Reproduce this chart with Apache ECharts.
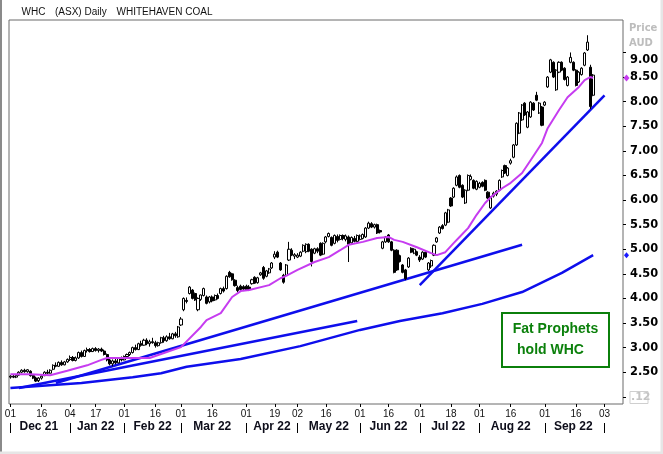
<!DOCTYPE html>
<html><head><meta charset="utf-8">
<script src="https://cdn.jsdelivr.net/npm/echarts@6/dist/echarts.min.js"></script>
<style>html,body{margin:0;padding:0;background:#fff;}#c{width:663px;height:454px;}</style>
</head><body><div id="c"></div>
<script>
// ---- trading days (ASX) per month ----
const dec21=[1,2,3,6,7,8,9,10,13,14,15,16,17,20,21,22,23,24,29,30,31];
const jan22=[4,5,6,7,10,11,12,13,14,17,18,19,20,21,24,25,27,28,31];
const feb22=[1,2,3,4,7,8,9,10,11,14,15,16,17,18,21,22,23,24,25,28];
const mar22=[1,2,3,4,7,8,9,10,11,14,15,16,17,18,21,22,23,24,25,28,29,30,31];
const apr22=[1,4,5,6,7,8,11,12,13,14,19,20,21,22,26,27,28,29];
const may22=[2,3,4,5,6,9,10,11,12,13,16,17,18,19,20,23,24,25,26,27,30,31];
const jun22=[1,2,3,6,7,8,9,10,14,15,16,17,20,21,22,23,24,27,28,29,30];
const jul22=[1,4,5,6,7,8,11,12,13,14,15,18,19,20,21,22,25,26,27,28,29];
const aug22=[1,2,3,4,5,8,9,10,11,12,15,16,17,18,19,22,23,24,25,26,29,30,31];
const sep22=[1,2,5,6,7,8,9,12,13,14,15,16,19,20,21,23,26,27,28,29,30];
const oct22=[3,4,5,6,7,10,11];
const monthKeys=['2021-12','2022-01','2022-02','2022-03','2022-04','2022-05','2022-06','2022-07','2022-08','2022-09','2022-10'];
const monthDays=[dec21,jan22,feb22,mar22,apr22,may22,jun22,jul22,aug22,sep22,oct22];
const monthNames=['Dec 21','Jan 22','Feb 22','Mar 22','Apr 22','May 22','Jun 22','Jul 22','Aug 22','Sep 22'];
const tickDates=['2021-12-01','2021-12-16','2022-01-04','2022-01-17','2022-02-01','2022-02-16','2022-03-01','2022-03-16','2022-04-01','2022-04-19','2022-05-02','2022-05-16','2022-06-01','2022-06-16','2022-07-01','2022-07-18','2022-08-01','2022-08-16','2022-09-01','2022-09-16','2022-10-03'];
const yTicks=[2.0,2.5,3.0,3.5,4.0,4.5,5.0,5.5,6.0,6.5,7.0,7.5,8.0,8.5,9.0];
const yLabels=[2.5,3.0,3.5,4.0,4.5,5.0,5.5,6.0,6.5,7.0,7.5,8.0,8.5,9.0];

// ---- daily prices (AUD) ----
const openP=[2.40,2.42,2.40,2.44,2.50,2.54,2.51,2.52,2.43,2.38,
2.33,2.38,2.43,2.50,2.48,2.56,2.64,2.62,2.70,2.65,
2.71,2.76,2.80,2.74,2.79,2.90,2.82,2.94,2.96,2.92,
2.98,2.94,2.97,2.93,2.86,2.75,2.67,2.73,2.69,2.78,
2.75,2.82,2.86,2.90,3.00,2.96,3.08,3.05,3.15,3.08,
3.12,3.10,3.04,3.10,3.20,3.14,3.22,3.18,3.28,3.22,
3.46,3.77,3.96,4.10,4.17,4.10,3.77,3.98,4.06,4.03,
3.93,4.03,3.97,4.06,4.10,4.20,4.20,4.53,4.50,4.37,
4.22,4.25,4.24,4.25,4.23,4.30,4.43,4.32,4.48,4.63,
4.45,4.52,4.62,4.84,4.94,4.72,4.47,4.47,4.78,4.98,
4.86,4.84,4.86,4.96,4.95,5.10,5.00,4.92,5.01,5.12,
4.90,5.15,5.26,5.24,5.12,5.26,5.20,5.28,5.20,5.25,
5.13,5.22,5.16,5.20,5.22,5.25,5.43,5.52,5.45,5.50,
5.38,5.02,5.15,5.29,5.15,4.98,4.98,4.87,4.68,4.58,
4.64,5.02,4.92,4.95,4.84,4.80,4.94,4.58,4.66,4.88,
5.15,5.33,5.48,5.49,5.55,6.04,6.06,6.30,6.50,6.30,
5.94,6.20,6.42,6.40,6.22,6.26,6.36,6.40,6.16,5.84,
6.08,6.12,6.20,6.47,6.70,6.50,6.75,6.87,7.12,7.36,
7.63,7.97,7.48,7.69,7.97,8.13,7.77,7.89,7.93,8.30,
8.60,8.80,8.24,8.60,8.80,8.68,8.33,8.80,8.80,8.64,
8.40,8.55,8.74,9.05,8.70,8.13];
const highP=[2.44,2.45,2.44,2.52,2.56,2.57,2.56,2.54,2.46,2.41,
2.40,2.44,2.52,2.55,2.56,2.66,2.70,2.72,2.74,2.73,
2.78,2.84,2.83,2.82,2.92,2.94,2.96,3.00,2.99,3.00,
3.01,2.99,3.00,2.96,2.88,2.80,2.76,2.78,2.80,2.82,
2.84,2.88,2.92,3.02,3.06,3.10,3.14,3.18,3.19,3.16,
3.20,3.14,3.12,3.22,3.24,3.25,3.30,3.30,3.32,3.44,
3.62,4.02,4.02,4.25,4.19,4.12,4.02,4.08,4.22,4.06,
4.05,4.06,4.08,4.10,4.22,4.24,4.47,4.56,4.52,4.39,
4.26,4.28,4.27,4.28,4.27,4.40,4.45,4.44,4.54,4.66,
4.58,4.62,4.74,4.96,4.97,4.74,4.50,4.70,5.15,5.02,
4.92,4.92,4.96,5.10,5.12,5.12,5.02,5.03,5.04,5.14,
5.14,5.27,5.34,5.26,5.30,5.30,5.30,5.30,5.30,5.28,
5.26,5.27,5.30,5.30,5.32,5.45,5.56,5.55,5.52,5.52,
5.40,5.17,5.27,5.31,5.17,5.00,5.00,4.89,4.70,4.60,
4.84,5.04,5.02,4.97,4.88,4.96,4.96,4.74,4.79,5.10,
5.25,5.47,5.51,5.76,5.82,6.06,6.26,6.50,6.52,6.32,
6.22,6.52,6.52,6.42,6.40,6.37,6.38,6.42,6.18,6.08,
6.17,6.20,6.42,6.62,6.72,6.67,6.84,7.14,7.58,7.79,
7.95,7.99,7.81,8.01,7.99,8.20,7.99,7.91,8.01,8.52,
8.87,8.82,8.66,8.82,8.82,8.70,8.52,9.00,8.82,8.66,
8.62,8.70,9.01,9.35,8.75,8.56];
const lowP=[2.37,2.38,2.38,2.43,2.48,2.49,2.49,2.41,2.36,2.30,
2.30,2.35,2.42,2.46,2.47,2.54,2.60,2.61,2.63,2.64,
2.69,2.73,2.72,2.72,2.77,2.80,2.81,2.90,2.90,2.91,
2.92,2.90,2.91,2.84,2.72,2.64,2.62,2.66,2.68,2.72,
2.74,2.78,2.83,2.88,2.94,2.95,3.02,3.04,3.05,3.02,
3.08,3.00,3.02,3.08,3.10,3.12,3.16,3.17,3.20,3.20,
3.44,3.74,3.90,4.08,3.98,3.95,3.74,3.95,4.04,3.88,
3.90,3.92,3.95,3.98,4.08,4.12,4.18,4.42,4.36,4.24,
4.12,4.15,4.15,4.16,4.15,4.28,4.30,4.30,4.46,4.38,
4.43,4.50,4.60,4.80,4.82,4.56,4.30,4.45,4.76,4.86,
4.80,4.82,4.84,4.94,4.92,4.94,4.65,4.90,4.92,4.86,
4.88,5.12,5.24,5.06,5.10,5.14,5.18,5.18,5.16,4.74,
5.11,5.14,5.14,5.18,5.20,5.23,5.41,5.43,5.42,5.31,
5.32,5.00,5.13,5.13,4.96,4.51,4.56,4.73,4.51,4.37,
4.62,4.92,4.90,4.86,4.74,4.78,4.82,4.56,4.62,4.86,
5.13,5.31,5.40,5.47,5.53,5.86,6.04,6.28,6.24,6.04,
5.92,6.18,6.40,6.22,6.20,6.24,6.26,6.18,6.02,5.82,
6.05,6.08,6.18,6.45,6.53,6.48,6.72,6.85,7.10,7.34,
7.61,7.71,7.46,7.67,7.81,8.01,7.75,7.50,7.91,8.28,
8.58,8.48,8.22,8.58,8.62,8.43,8.31,8.78,8.62,8.31,
8.38,8.53,8.72,9.03,7.85,8.11];
const closeP=[2.42,2.40,2.43,2.50,2.54,2.51,2.55,2.43,2.38,2.32,
2.38,2.42,2.50,2.48,2.54,2.64,2.62,2.70,2.65,2.71,
2.76,2.80,2.74,2.79,2.90,2.82,2.94,2.96,2.92,2.98,
2.94,2.97,2.93,2.86,2.75,2.67,2.73,2.69,2.78,2.75,
2.82,2.86,2.90,3.00,2.96,3.08,3.05,3.15,3.08,3.12,
3.10,3.04,3.10,3.20,3.14,3.22,3.18,3.28,3.24,3.42,
3.58,4.00,3.94,4.23,4.00,3.97,4.00,4.07,4.20,3.90,
4.03,3.95,4.06,4.00,4.20,4.15,4.45,4.44,4.38,4.26,
4.16,4.18,4.19,4.17,4.18,4.38,4.31,4.42,4.52,4.41,
4.56,4.60,4.72,4.90,4.84,4.58,4.33,4.68,5.00,4.88,
4.89,4.88,4.94,5.08,5.10,4.96,4.75,5.01,4.96,4.88,
5.12,5.25,5.32,5.08,5.28,5.18,5.28,5.22,5.27,5.10,
5.24,5.16,5.28,5.27,5.30,5.43,5.53,5.45,5.50,5.33,
5.35,5.15,5.25,5.15,4.98,4.53,4.58,4.75,4.53,4.40,
4.82,4.94,5.00,4.88,4.78,4.94,4.84,4.72,4.77,5.08,
5.23,5.45,5.42,5.74,5.80,5.88,6.24,6.47,6.26,6.06,
6.20,6.50,6.48,6.24,6.38,6.34,6.28,6.20,6.04,6.06,
6.14,6.18,6.40,6.60,6.55,6.65,6.80,7.12,7.56,7.77,
7.93,7.73,7.79,7.99,7.83,8.03,7.97,7.52,7.99,8.50,
8.85,8.50,8.64,8.80,8.64,8.45,8.50,8.90,8.64,8.33,
8.60,8.68,8.99,9.21,7.90,8.54];

// ---- short moving average (magenta), read at [trading-day index, value] ----
const maShort=[[0,2.46],[7,2.46],[14,2.44],[20,2.53],[27,2.64],[32,2.75],[34,2.79],[49,2.79],[55,2.91],[60,3.01],[67,3.42],[69,3.56],[74,3.70],[78,4.03],[81,4.15],[84,4.17],[91,4.27],[95,4.41],[97,4.46],[101,4.58],[107,4.74],[112,4.84],[116,4.98],[119,5.09],[124,5.15],[129,5.23],[133,5.25],[135,5.19],[138,5.15],[143,5.04],[148,4.92],[150,4.88],[153,4.94],[156,5.13],[158,5.25],[161,5.43],[164,5.70],[167,5.94],[169,6.06],[173,6.24],[176,6.35],[180,6.55],[183,6.81],[187,7.16],[189,7.46],[193,7.83],[196,8.09],[200,8.30],[202,8.44],[204,8.50],[205,8.48]];
// ---- long moving average (blue curve) ----
const maLong=[[0,2.18],[25,2.28],[43,2.40],[53,2.48],[62,2.61],[81,2.77],[102,3.03],[123,3.36],[137,3.54],[152,3.70],[166,3.89],[180,4.13],[194,4.52],[205,4.88]];
// ---- trend lines ----
const trendB=[[3,2.18],[122,3.54]];
const trendC=[[16,2.28],[180,5.09]];
const trendD=[[144,4.27],[209,8.13]];

// ---- build categories ----
const cats=[];
const monthStartIdx=[];
monthKeys.forEach((k,mi)=>{monthStartIdx.push(cats.length);monthDays[mi].forEach(d=>cats.push(k+'-'+String(d).padStart(2,'0')));});
const tickIdx=new Set(tickDates.map(d=>cats.indexOf(d)));
const sepIdx=new Set(monthStartIdx);
const monthLabelAt={};
for(let m=0;m<monthNames.length;m++){monthLabelAt[Math.floor((monthStartIdx[m]+monthStartIdx[m+1])/2)]=monthNames[m];}
const candles=openP.map((o,i)=>[o,closeP[i],lowP[i],highP[i]]);

const BLUE='#0e0eec', MAG='#c63cf0';
const chart=echarts.init(document.getElementById('c'),null,{renderer:'canvas'});
const yFont={fontFamily:'"DejaVu Sans", Verdana, sans-serif',fontWeight:'bold',fontSize:11.4,color:'#000'};
chart.setOption({
  animation:false,
  backgroundColor:'#ffffff',
  grid:{left:9,top:20,width:614,height:384,show:true,borderColor:'#6b6b6b',borderWidth:1,containLabel:false,outerBoundsMode:'none'},
  xAxis:[{
    type:'category',data:cats,boundaryGap:true,position:'bottom',
    axisLine:{show:false},splitLine:{show:false},
    axisTick:{show:true,alignWithLabel:true,length:3,interval:(i)=>tickIdx.has(i),lineStyle:{color:'#000',width:1}},
    axisLabel:{show:true,interval:(i)=>tickIdx.has(i),formatter:(v)=>v.slice(8),margin:5,fontSize:10,fontFamily:'"Liberation Sans", Arial, sans-serif',color:'#111'}
  },{
    type:'category',data:cats,boundaryGap:true,position:'bottom',offset:19,
    axisLine:{show:false},splitLine:{show:false},
    axisTick:{show:true,alignWithLabel:true,length:10,interval:(i)=>sepIdx.has(i),lineStyle:{color:'#000',width:1}},
    axisLabel:{show:true,interval:(i)=>monthLabelAt[i]!==undefined,formatter:(v,i)=>monthLabelAt[i]||'',margin:-2,fontSize:12,fontWeight:'bold',fontFamily:'"Liberation Sans", Arial, sans-serif',color:'#0d0d1a'}
  }],
  yAxis:{
    type:'value',position:'right',min:1.854,max:9.66,scale:true,
    axisLine:{show:false},splitLine:{show:false},
    axisTick:{show:true,length:3,customValues:yTicks,lineStyle:{color:'#000'}},
    axisLabel:Object.assign({show:true,margin:7,customValues:yLabels,
      formatter:(v)=>Math.abs(v-9)<1e-6?'{d|9.00}':v.toFixed(2),
      rich:{d:Object.assign({padding:[16,0,0,0]},yFont)}},yFont)
  },
  series:[
    {type:'line',name:'long',data:maLong,symbol:'none',z:2,lineStyle:{color:BLUE,width:2.5},xAxisIndex:0},
    {type:'line',name:'B',data:trendB,symbol:'none',z:2,lineStyle:{color:BLUE,width:2.5},xAxisIndex:0},
    {type:'line',name:'C',data:trendC,symbol:'none',z:2,lineStyle:{color:BLUE,width:2.5},xAxisIndex:0},
    {type:'line',name:'D',data:trendD,symbol:'none',z:2,lineStyle:{color:BLUE,width:2.5},xAxisIndex:0},
    {type:'candlestick',data:candles,barWidth:2.6,z:3,xAxisIndex:0,
      itemStyle:{color:'#ffffff',color0:'#000000',borderColor:'#000000',borderColor0:'#000000',borderWidth:1}},
    {type:'line',name:'ma',data:maShort,symbol:'none',z:4,lineStyle:{color:MAG,width:2},xAxisIndex:0}
  ]
});

const yMag=chart.convertToPixel({yAxisIndex:0},maShort[maShort.length-1][1]);
const yBlue=chart.convertToPixel({yAxisIndex:0},maLong[maLong.length-1][1]);
const diamond=(cx,cy,r,fill)=>({type:'polygon',shape:{points:[[cx,cy-r],[cx+r-0.5,cy],[cx,cy+r],[cx-r+0.5,cy]]},style:{fill:fill},z:20});
const tf='"Liberation Sans", Arial, sans-serif';
chart.setOption({graphic:[
  {type:'rect',shape:{x:0,y:0,width:2,height:454},style:{fill:'#8a8a8a'},z:30},
  {type:'rect',shape:{x:660.5,y:0,width:3,height:454},style:{fill:'#e6e6e6'},z:30},
  {type:'rect',shape:{x:0,y:451.5,width:663,height:3},style:{fill:'#e6e6e6'},z:30},
  {type:'text',x:21.5,y:12.5,style:{text:'WHC',font:'10px '+tf,fill:'#111',verticalAlign:'middle'},z:20},
  {type:'text',x:55,y:12.5,style:{text:'(ASX) Daily',font:'10px '+tf,fill:'#111',verticalAlign:'middle'},z:20},
  {type:'text',x:116.5,y:12.5,style:{text:'WHITEHAVEN COAL',font:'10px '+tf,fill:'#111',verticalAlign:'middle'},z:20},
  {type:'text',x:629,y:28.5,style:{text:'Price',font:'bold 10px "DejaVu Sans", Verdana, sans-serif',fill:'#bdbdbd',verticalAlign:'middle'},z:20},
  {type:'text',x:629,y:43.5,style:{text:'AUD',font:'bold 10px "DejaVu Sans", Verdana, sans-serif',fill:'#bdbdbd',verticalAlign:'middle'},z:20},
  {type:'rect',shape:{x:630,y:391.5,width:18,height:12},style:{fill:'#fff',stroke:'#cfcfcf',lineWidth:1},z:20},
  {type:'text',x:631,y:397.5,style:{text:'.12',font:'bold 11px "DejaVu Sans", Verdana, sans-serif',fill:'#c4c4c4',verticalAlign:'middle'},z:21},
  diamond(626.5,yMag,3.5,MAG),
  diamond(626.5,yBlue,3,'#1a1aff'),
  {type:'rect',shape:{x:502,y:313,width:107,height:54},style:{fill:'#fff',stroke:'#0b7f0b',lineWidth:2},z:20},
  {type:'text',x:555.5,y:329.5,style:{text:'Fat Prophets',font:'bold 14px '+tf,fill:'#0b800b',align:'center',verticalAlign:'middle'},z:21},
  {type:'text',x:550.5,y:350.5,style:{text:'hold WHC',font:'bold 14px '+tf,fill:'#0b800b',align:'center',verticalAlign:'middle'},z:21}
]});
</script></body></html>
